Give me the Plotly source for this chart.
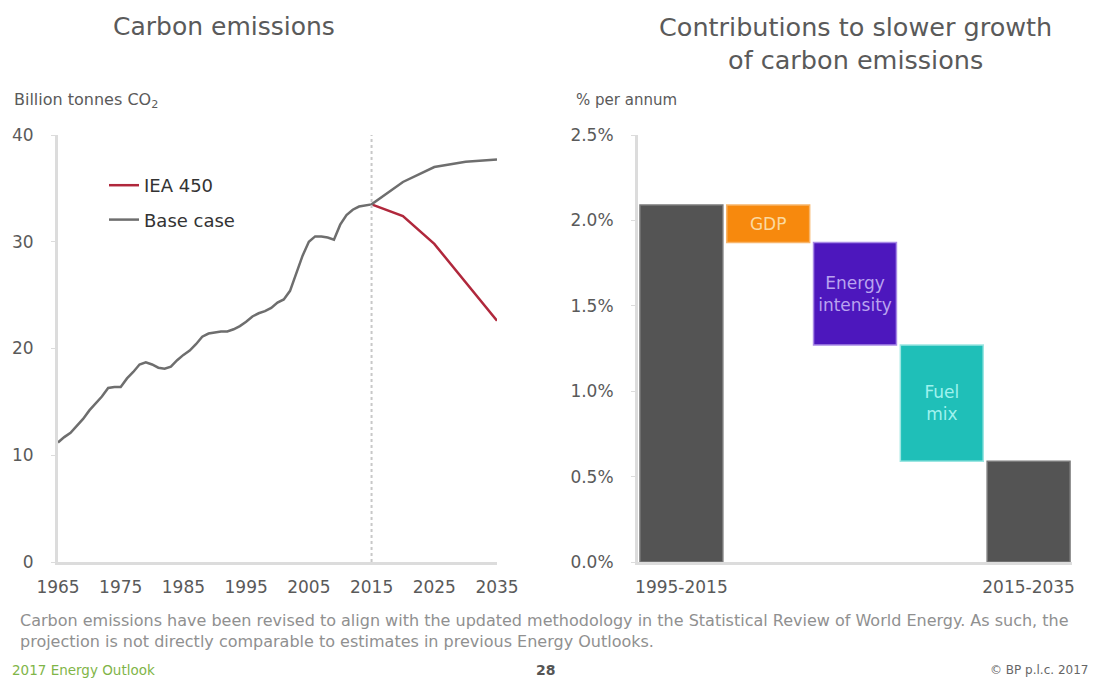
import plotly.graph_objects as go

# ---------------- Data ----------------
hist_years = list(range(1965, 2016))
hist_base = [11.2, 11.7, 12.1, 12.7, 13.4, 14.2, 14.8, 15.5, 16.3, 16.4, 16.4,
             17.2, 17.8, 18.5, 18.7, 18.5, 18.2, 18.1, 18.3, 18.9, 19.4,
             19.8, 20.4, 21.1, 21.4, 21.5, 21.6, 21.6, 21.8, 22.1, 22.5,
             23.0, 23.3, 23.5, 23.8, 24.3, 24.6, 25.4, 27.0, 28.7, 30.0,
             30.5, 30.5, 30.4, 30.2, 31.6, 32.5, 33.0, 33.3, 33.4, 33.5]
proj_years = [2020, 2025, 2030, 2035]
proj_base = [35.6, 37.0, 37.5, 37.7]
iea_years = [2015, 2020, 2025, 2030, 2035]
iea_450 = [33.5, 32.4, 29.8, 26.2, 22.6]

wf_categories = ["1995-2015", "GDP", "Energy intensity", "Fuel mix", "2015-2035"]
wf_start = 2.09
wf_changes = [-0.22, -0.60, -0.68]
wf_end = 0.59
wf_change_labels = ["GDP", "Energy<br>intensity", "Fuel<br>mix"]
wf_tickvals = ["1995-2015", "2015-2035"]

left_yticks = [0, 10, 20, 30, 40]
left_xticks = [1965, 1975, 1985, 1995, 2005, 2015, 2025, 2035]
right_yticks = [0, 0.5, 1.0, 1.5, 2.0, 2.5]
right_yticktext = ["0.0%", "0.5%", "1.0%", "1.5%", "2.0%", "2.5%"]

# ---------------- Build ----------------
W, H = 1094, 679
FONT = "DejaVu Sans, Verdana, sans-serif"
AXC = "#dcdcdc"
TXT = "#5a5a5a"

fig = go.Figure()

base_x = hist_years + proj_years
base_y = hist_base + proj_base

fig.add_trace(go.Scatter(x=iea_years, y=iea_450, mode="lines", name="IEA 450",
                         line=dict(color="#b0283c", width=2.5),
                         xaxis="x", yaxis="y", legendgroup="a"))
fig.add_trace(go.Scatter(x=base_x, y=base_y, mode="lines", name="Base case",
                         line=dict(color="#6e6e6e", width=2.5),
                         xaxis="x", yaxis="y", legendgroup="b"))

# waterfall as floating bars: totals (dark) and changes (coloured)
tot_x = [wf_categories[0], wf_categories[-1]]
tot_y = [wf_start, wf_end]

chg_x = wf_categories[1:4]
chg_bottoms, chg_heights = [], []
level = wf_start
for c in wf_changes:
    new = level + c
    chg_bottoms.append(min(level, new))
    chg_heights.append(abs(c))
    level = new

fig.add_trace(go.Bar(x=tot_x, y=tot_y, base=[0, 0],
                     marker=dict(color="#545454", line=dict(color="#7a7a7a", width=1.5)),
                     showlegend=False, xaxis="x2", yaxis="y2", hoverinfo="skip"))

chg_colors = ["#f7890d", "#4d17bd", "#1fbfb8"]
chg_line = ["#f8b56a", "#a98ae6", "#9ce6e2"]
chg_text = ["#fbd9a0", "#b9a3ef", "#9ff2ee"]
fig.add_trace(go.Bar(x=chg_x, y=chg_heights, base=chg_bottoms,
                     marker=dict(color=chg_colors, line=dict(color=chg_line, width=1.5)),
                     text=wf_change_labels, textposition="inside", insidetextanchor="middle",
                     textangle=0,
                     textfont=dict(family=FONT, size=17, color=chg_text),
                     showlegend=False, xaxis="x2", yaxis="y2", hoverinfo="skip"))

ydom = [1 - 562 / H, 1 - 135 / H]

fig.update_layout(
    width=W, height=H,
    margin=dict(l=0, r=0, t=0, b=0),
    paper_bgcolor="white", plot_bgcolor="white",
    font=dict(family=FONT, color=TXT),
    barmode="overlay",
    bargap=0.045,
    xaxis=dict(domain=[58 / W, 497 / W], range=[1965, 2035], tickvals=left_xticks,
               showgrid=False, zeroline=False, showline=True, linecolor=AXC, linewidth=3,
               ticks="", tickfont=dict(size=17, color=TXT), ticklabelstandoff=8,
               automargin=False),
    yaxis=dict(domain=ydom, range=[0, 40], tickvals=left_yticks, showgrid=False,
               zeroline=False, showline=True, linecolor=AXC, linewidth=3,
               ticks="outside", ticklen=4, tickcolor=AXC, tickwidth=1,
               tickfont=dict(size=17, color=TXT), ticklabelstandoff=14,
               automargin=False),
    xaxis2=dict(domain=[638 / W, 1072 / W], anchor="y2", type="category",
                categoryorder="array", categoryarray=wf_categories,
                range=[-0.5, len(wf_categories) - 0.5],
                tickvals=wf_tickvals, showgrid=False, zeroline=False, showline=True,
                linecolor=AXC, linewidth=3, ticks="",
                tickfont=dict(size=17, color=TXT), ticklabelstandoff=8,
                automargin=False),
    yaxis2=dict(domain=ydom, anchor="x2", range=[0, 2.5], tickvals=right_yticks,
                ticktext=right_yticktext, showgrid=False, zeroline=False, showline=True,
                linecolor=AXC, linewidth=3, ticks="outside", ticklen=4, tickcolor=AXC,
                tickfont=dict(size=17, color=TXT), ticklabelstandoff=14,
                automargin=False),
    legend=dict(x=104 / W, y=1 - 167 / H, xanchor="left", yanchor="top",
                font=dict(size=18, color="#333333"), bgcolor="rgba(0,0,0,0)",
                traceorder="grouped", tracegroupgap=8),
    showlegend=True,
)

fig.add_shape(type="line", xref="x", yref="y", x0=2015, x1=2015, y0=0, y1=40.3,
              line=dict(color="#c8c8c8", width=2, dash="dot"))

annotations = [
    dict(text="Carbon emissions", x=224 / W, y=1 - 27 / H, size=25, color=TXT, xanchor="center"),
    dict(text="Contributions to slower growth<br>of carbon emissions", x=855 / W, y=1 - 44 / H,
         size=25.5, color=TXT, xanchor="center"),
    dict(text="Billion tonnes CO<sub>2</sub>", x=12 / W, y=1 - 100 / H, size=16, color=TXT, xanchor="left"),
    dict(text="% per annum", x=574 / W, y=1 - 100 / H, size=15, color=TXT, xanchor="left"),
    dict(text="Carbon emissions have been revised to align with the updated methodology in the Statistical Review of World Energy. As such, the",
         x=18 / W, y=1 - 620 / H, size=16, color="#909090", xanchor="left"),
    dict(text="projection is not directly comparable to estimates in previous Energy Outlooks.",
         x=18 / W, y=1 - 641 / H, size=16, color="#909090", xanchor="left"),
    dict(text="2017 Energy Outlook", x=10 / W, y=1 - 670 / H, size=13.5, color="#7fb548", xanchor="left"),
    dict(text="<b>28</b>", x=545 / W, y=1 - 670 / H, size=14, color="#555555", xanchor="center"),
    dict(text="© BP p.l.c. 2017", x=1090 / W, y=1 - 670 / H, size=12, color="#666666", xanchor="right"),
]
fig.update_layout(annotations=[
    dict(text=a["text"], x=a["x"], y=a["y"], xref="paper", yref="paper", showarrow=False,
         xanchor=a["xanchor"], yanchor="middle", align="center" if a["xanchor"] == "center" else "left",
         font=dict(family=FONT, size=a["size"], color=a["color"]))
    for a in annotations
])

fig.write_html("out.html")
